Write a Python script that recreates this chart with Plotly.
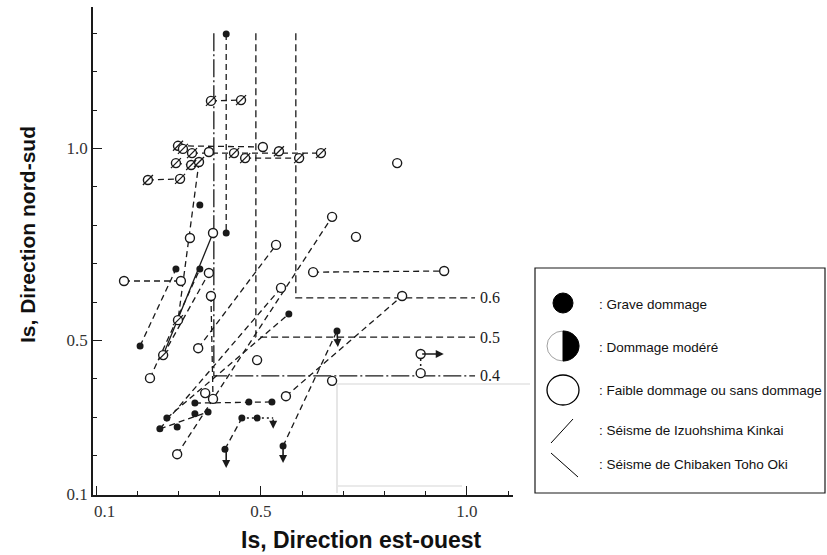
import plotly.graph_objects as go

W, H = 827, 555

# ---------------- data ----------------
# Grave dommage (filled)
grave_x = [0.416, 0.416, 0.352, 0.294, 0.352, 0.207, 0.568, 0.340, 0.471, 0.527,
           0.454, 0.491, 0.272, 0.255, 0.297, 0.340, 0.372, 0.413, 0.554, 0.685]
grave_y = [1.298, 0.780, 0.853, 0.686, 0.686, 0.486, 0.569, 0.337, 0.340, 0.340,
           0.298, 0.298, 0.298, 0.270, 0.275, 0.309, 0.314, 0.217, 0.225, 0.525]

# Dommage modéré (slashed circles in the scan)
modere_x = [0.379, 0.452, 0.299, 0.311, 0.333, 0.435, 0.544, 0.646, 0.462, 0.593,
            0.294, 0.331, 0.350, 0.226, 0.304, 0.299, 0.263]
modere_y = [1.124, 1.126, 1.007, 0.999, 0.988, 0.988, 0.993, 0.988, 0.975, 0.975,
            0.962, 0.957, 0.965, 0.918, 0.921, 0.553, 0.462]

# Faible dommage ou sans dommage (open)
faible_x = [0.505, 0.374, 0.831, 0.673, 0.731, 0.328, 0.384, 0.537, 0.306, 0.168,
            0.374, 0.379, 0.231, 0.348, 0.549, 0.491, 0.627, 0.945, 0.843, 0.673,
            0.561, 0.365, 0.384, 0.297, 0.888, 0.888]
faible_y = [1.004, 0.991, 0.962, 0.822, 0.770, 0.767, 0.780, 0.749, 0.655, 0.655,
            0.676, 0.616, 0.402, 0.480, 0.637, 0.449, 0.678, 0.681, 0.616, 0.395,
            0.355, 0.363, 0.348, 0.204, 0.465, 0.415]

# dashed links between paired values
link_x0 = [0.416, 0.379, 0.299, 0.333, 0.462, 0.294, 0.226, 0.350, 0.207, 0.231,
           0.263, 0.168, 0.348, 0.255, 0.272, 0.297, 0.561, 0.554, 0.627, 0.340,
           0.413, 0.379, 0.255]
link_y0 = [1.298, 1.124, 1.007, 0.988, 0.975, 0.962, 0.918, 0.965, 0.486, 0.402,
           0.462, 0.655, 0.480, 0.270, 0.298, 0.204, 0.355, 0.225, 0.678, 0.337,
           0.217, 0.616, 0.270]
link_x1 = [0.416, 0.452, 0.505, 0.646, 0.593, 0.331, 0.304, 0.299, 0.294, 0.352,
           0.374, 0.306, 0.537, 0.549, 0.568, 0.673, 0.843, 0.685, 0.945, 0.527,
           0.454, 0.384, 0.372]
link_y1 = [0.780, 1.126, 1.004, 0.988, 0.975, 0.957, 0.921, 0.553, 0.686, 0.686,
           0.676, 0.655, 0.749, 0.637, 0.569, 0.822, 0.616, 0.525, 0.681, 0.340,
           0.298, 0.348, 0.314]

# solid link
solid_x = [0.384, 0.263]
solid_y = [0.780, 0.462]

# dotted links
dot_x0 = [0.454, 0.888]
dot_y0 = [0.298, 0.465]
dot_x1 = [0.530, 0.888]
dot_y1 = [0.298, 0.415]

# arrows (tail -> head)
arr_x0 = [0.416, 0.554, 0.685, 0.530, 0.888]
arr_y0 = [0.217, 0.225, 0.525, 0.298, 0.465]
arr_x1 = [0.416, 0.554, 0.687, 0.530, 0.944]
arr_y1 = [0.168, 0.181, 0.483, 0.270, 0.465]

# threshold lines Is = 0.4 / 0.5 / 0.6
thr_labels = ["0.4", "0.5", "0.6"]
thr_xv = [0.386, 0.488, 0.585]
thr_yv = [0.408, 0.509, 0.611]
thr_top = 1.30
thr_end = 1.02

x_ticks = [0.1, 0.5, 1.0]
x_ticktext = ["\u2007\u20070.1", "0.5", "1.0"]
y_ticks = [0.1, 0.5, 1.0]
y_ticktext = ["0.1", "0.5", "1.0"]

legend_labels = [": Grave dommage", ": Dommage modéré",
                 ": Faible dommage ou sans dommage",
                 ": Séisme de Izuohshima Kinkai", ": Séisme de Chibaken Toho Oki"]

# ---------------- figure ----------------
fig = go.Figure()
INK = "#1a1a1a"
SERIF = "Liberation Serif, Times New Roman, serif"
SANS = "Liberation Sans, Arial, sans-serif"


def segs(x0, y0, x1, y1):
    xs, ys = [], []
    for a, b, c, d in zip(x0, y0, x1, y1):
        xs += [a, c, None]
        ys += [b, d, None]
    return xs, ys


# threshold lines
for i, (lab, xv, yv) in enumerate(zip(thr_labels, thr_xv, thr_yv)):
    dash = "18px,3px,2px,3px" if i == 0 else "7px,4px"
    fig.add_trace(go.Scatter(x=[xv, xv, thr_end], y=[thr_top, yv, yv], mode="lines",
                             line=dict(color=INK, width=1.3, dash=dash),
                             showlegend=False, hoverinfo="skip"))
    fig.add_annotation(x=thr_end + 0.007, y=yv, xref="x", yref="y", text=lab,
                       showarrow=False, xanchor="left", yanchor="middle",
                       font=dict(family=SERIF, size=16, color=INK))

lx, ly = segs(link_x0, link_y0, link_x1, link_y1)
fig.add_trace(go.Scatter(x=lx, y=ly, mode="lines",
                         line=dict(color=INK, width=1.3, dash="6px,4px"),
                         showlegend=False, hoverinfo="skip"))
fig.add_trace(go.Scatter(x=solid_x, y=solid_y, mode="lines",
                         line=dict(color=INK, width=1.3),
                         showlegend=False, hoverinfo="skip"))
dx, dy = segs(dot_x0, dot_y0, dot_x1, dot_y1)
fig.add_trace(go.Scatter(x=dx, y=dy, mode="lines",
                         line=dict(color=INK, width=1.5, dash="2px,3px"),
                         showlegend=False, hoverinfo="skip"))

fig.add_trace(go.Scatter(x=faible_x, y=faible_y, mode="markers",
                         marker=dict(symbol="circle", size=9, color="white",
                                     line=dict(color=INK, width=1.4)),
                         showlegend=False))
fig.add_trace(go.Scatter(x=modere_x, y=modere_y, mode="markers",
                         marker=dict(symbol="circle", size=9, color="white",
                                     line=dict(color=INK, width=1.4)),
                         showlegend=False))
fig.add_trace(go.Scatter(x=modere_x, y=modere_y, mode="markers",
                         marker=dict(symbol="line-ne", size=10,
                                     line=dict(color=INK, width=1.3)),
                         showlegend=False, hoverinfo="skip"))
fig.add_trace(go.Scatter(x=grave_x, y=grave_y, mode="markers",
                         marker=dict(symbol="circle", size=7, color=INK,
                                     line=dict(color=INK, width=0)),
                         showlegend=False))

for a, b, c, d in zip(arr_x0, arr_y0, arr_x1, arr_y1):
    fig.add_annotation(x=c, y=d, ax=a, ay=b, xref="x", yref="y", axref="x", ayref="y",
                       text="", showarrow=True, arrowhead=2, arrowsize=1,
                       arrowwidth=1.6, arrowcolor=INK)

# pixel overlay axes for legend / titles
fig.add_trace(go.Scatter(x=[0], y=[0], xaxis="x2", yaxis="y2", mode="markers",
                         marker=dict(opacity=0), showlegend=False, hoverinfo="skip"))

shapes = []
# faint scan artefacts
for (x0, y0, x1, y1) in [(337, 384, 530, 384), (337, 384, 337, 493), (338, 486, 462, 486)]:
    shapes.append(dict(type="line", xref="x2", yref="y2", x0=x0, y0=y0, x1=x1, y1=y1,
                       line=dict(color="#d6d6d6", width=1.2), layer="below"))
# legend box
shapes.append(dict(type="rect", xref="x2", yref="y2", x0=535, y0=268, x1=825, y1=493,
                   line=dict(color=INK, width=1.2), fillcolor="white"))
# filled circle
shapes.append(dict(type="circle", xref="x2", yref="y2", x0=553, y0=293, x1=573, y1=313,
                   line=dict(color="black", width=1), fillcolor="black"))
# half circle
cx, cy, rx, ry = 563, 346, 16, 15
k = 0.5523
shapes.append(dict(type="circle", xref="x2", yref="y2", x0=cx - rx, y0=cy - ry,
                   x1=cx + rx, y1=cy + ry, line=dict(color="#888", width=0.8),
                   fillcolor="white"))
path = (f"M {cx},{cy - ry} C {cx + k * rx},{cy - ry} {cx + rx},{cy - k * ry} {cx + rx},{cy} "
        f"C {cx + rx},{cy + k * ry} {cx + k * rx},{cy + ry} {cx},{cy + ry} Z")
shapes.append(dict(type="path", xref="x2", yref="y2", path=path,
                   line=dict(color="black", width=1), fillcolor="black"))
# open circle
shapes.append(dict(type="circle", xref="x2", yref="y2", x0=547, y0=375, x1=579, y1=405,
                   line=dict(color="black", width=1.3), fillcolor="white"))
# slash / backslash
shapes.append(dict(type="line", xref="x2", yref="y2", x0=551, y0=443, x1=573, y1=419,
                   line=dict(color="black", width=1)))
shapes.append(dict(type="line", xref="x2", yref="y2", x0=551, y0=453, x1=578, y1=477,
                   line=dict(color="black", width=1)))
fig.update_layout(shapes=shapes)

leg_y = [304, 347, 390, 430, 464]
for lab, yy in zip(legend_labels, leg_y):
    fig.add_annotation(x=597, y=yy, xref="x2", yref="y2", text=lab, showarrow=False,
                       xanchor="left", yanchor="middle",
                       font=dict(family=SANS, size=13.5, color="#111"))

fig.add_annotation(x=361, y=540, xref="x2", yref="y2", text="<b>Is, Direction est-ouest</b>",
                   showarrow=False, xanchor="center", yanchor="middle",
                   font=dict(family=SANS, size=23, color="#111"))
fig.add_annotation(x=27, y=235, xref="x2", yref="y2", text="<b>Is, Direction nord-sud</b>",
                   showarrow=False, xanchor="center", yanchor="middle", textangle=-90,
                   font=dict(family=SANS, size=21, color="#111"))

fig.update_layout(
    template="none",
    width=W, height=H,
    margin=dict(l=0, r=0, t=0, b=0, pad=0, autoexpand=False),
    paper_bgcolor="white", plot_bgcolor="rgba(0,0,0,0)",
    showlegend=False,
    xaxis=dict(domain=[93 / W, 513 / W], range=[0.0927, 1.1121], showgrid=False,
               automargin=False,
               zeroline=False, showline=True, linecolor=INK, linewidth=1.8,
               ticks="inside", ticklen=9, tickwidth=1.3, tickcolor=INK,
               tickvals=x_ticks, ticktext=x_ticktext,
               tickfont=dict(family=SERIF, size=17, color="#333"),
               minor=dict(ticks="inside", ticklen=4, tickwidth=1.1, tickcolor=INK,
                          tick0=0.1, dtick=0.1),
               anchor="y"),
    yaxis=dict(domain=[(H - 495) / H, (H - 7) / H], range=[0.0977, 1.3685], showgrid=False,
               automargin=False,
               zeroline=False, showline=True, linecolor=INK, linewidth=1.8,
               ticks="inside", ticklen=9, tickwidth=1.3, tickcolor=INK,
               tickvals=y_ticks, ticktext=y_ticktext,
               tickfont=dict(family=SERIF, size=17, color="#333"),
               minor=dict(ticks="inside", ticklen=4, tickwidth=1.1, tickcolor=INK,
                          tick0=0.1, dtick=0.1),
               anchor="x"),
    xaxis2=dict(domain=[0, 1], range=[0, W], visible=False, anchor="y2", fixedrange=True,
                automargin=False),
    yaxis2=dict(domain=[0, 1], range=[H, 0], visible=False, anchor="x2", fixedrange=True,
                automargin=False),
)

fig.write_html(
    "out.html",
    config={"displayModeBar": False},
    post_script="document.body.style.margin='0px';document.body.style.overflow='hidden';",
)
